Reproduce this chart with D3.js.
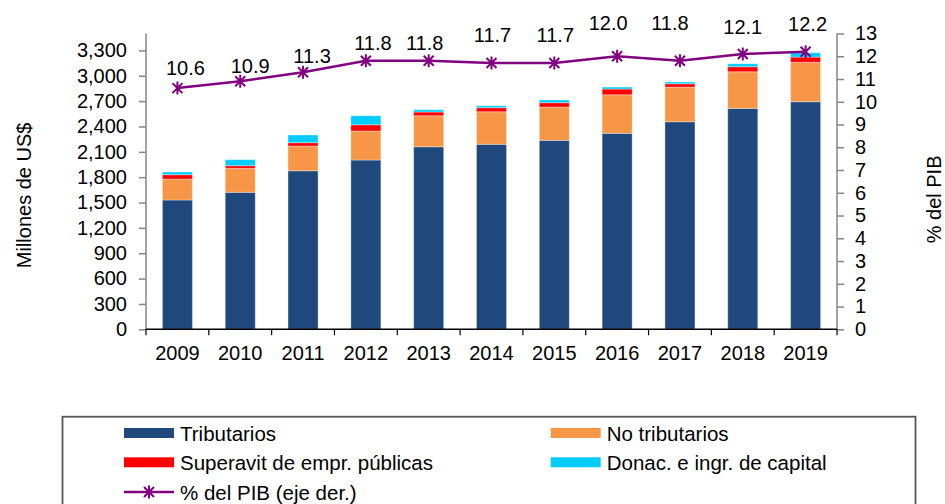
<!DOCTYPE html>
<html>
<head>
<meta charset="utf-8">
<script src="https://cdn.jsdelivr.net/npm/d3@7"></script>
<style>
  html, body { margin: 0; padding: 0; background: #fff; }
  svg { display: block; font-family: "Liberation Sans", Arial, sans-serif; }
</style>
</head>
<body>
<svg id="chart" width="945" height="504"></svg>
<script>
// ---- data ----
const years = ["2009","2010","2011","2012","2013","2014","2015","2016","2017","2018","2019"];
const tributarios   = [1530, 1621, 1876, 2003, 2160, 2189, 2236, 2319, 2456, 2614, 2693];
const noTributarios = [248, 284, 292, 343, 367, 385, 394, 456, 410, 433, 466];
const superavit     = [51, 31, 40, 74, 44, 48, 51, 68, 39, 60, 62];
const donaciones    = [32, 71, 91, 107, 27, 23, 32, 23, 21, 35, 51];
const pctPIB        = [10.6, 10.9, 11.3, 11.8, 11.8, 11.7, 11.7, 12.0, 11.8, 12.1, 12.2];
const leftTicks  = [0, 300, 600, 900, 1200, 1500, 1800, 2100, 2400, 2700, 3000, 3300];
const rightTicks = [0, 1, 2, 3, 4, 5, 6, 7, 8, 9, 10, 11, 12, 13];
const seriesNames = ["Tributarios", "No tributarios", "Superavit de empr. públicas", "Donac. e ingr. de capital"];
const lineName = "% del PIB (eje der.)";

// label nudges (pixels) for the % labels, as hand-placed in the original
const labelLift = [13.5, 8.4, 9.3, 11.3, 11.3, 20.8, 20.8, 26, 30.6, 19.5, 20.5];
const labelShift = [8, 10, 9, 7, -4, 1, 1, -9, -10, 0, 2];

const colors = ["#1F497D", "#F79646", "#FF0000", "#00CCFF"];
const lineColor = "#800080";

// ---- layout ----
const mLeft = 146, mRight = 837, mTop = 33.5, mBottom = 329.3;
const svg = d3.select("#chart");
const font = 20;

const x = d3.scaleBand().domain(years).range([mLeft, mRight]).padding(0);
const yL = d3.scaleLinear().domain([0, 3500]).range([mBottom, mTop]);
const yR = d3.scaleLinear().domain([0, 13]).range([mBottom, mTop]);
const barFrac = 0.478;
const bw = x.bandwidth() * barFrac;

const table = years.map((yr, i) => ({
  year: yr,
  s0: tributarios[i], s1: noTributarios[i], s2: superavit[i], s3: donaciones[i]
}));
const stack = d3.stack().keys(["s0","s1","s2","s3"])(table);

// bars
svg.append("g").selectAll("g").data(stack).join("g")
  .attr("fill", (d, i) => colors[i])
  .selectAll("rect").data(d => d).join("rect")
  .attr("x", d => x(d.data.year) + (x.bandwidth() - bw) / 2)
  .attr("width", bw)
  .attr("y", d => yL(d[1]))
  .attr("height", d => yL(d[0]) - yL(d[1]))
  .attr("stroke", "rgba(255,255,255,0.35)")
  .attr("stroke-width", 1);

// axes
const axisColor = "#868686";
const gL = svg.append("g").attr("transform", `translate(${mLeft},0)`)
  .call(d3.axisLeft(yL).tickValues(leftTicks).tickFormat(d3.format(",")).tickSize(7).tickPadding(12).tickSizeOuter(0));
const gR = svg.append("g").attr("transform", `translate(${mRight},0)`)
  .call(d3.axisRight(yR).tickValues(rightTicks).tickSize(7).tickPadding(11).tickSizeOuter(0));
[gL, gR].forEach(g => {
  g.select(".domain").attr("stroke", axisColor).attr("stroke-width", 1.5);
  g.selectAll(".tick line").attr("stroke", axisColor).attr("stroke-width", 1.5);
  g.selectAll(".tick text").attr("font-size", font).attr("fill", "#000")
    .attr("font-family", "Liberation Sans, Arial, sans-serif");
});
gL.select(".domain").attr("d", `M0,${mTop}V${mBottom}`);
gR.select(".domain").attr("d", `M0,${mTop}V${mBottom}`);

// bottom axis
const gB = svg.append("g").attr("transform", `translate(0,${mBottom})`);
gB.append("line").attr("x1", mLeft).attr("x2", mRight).attr("stroke", "#000").attr("stroke-width", 1.5);
const boundaries = years.map(yr => x(yr)).concat([mRight]);
gB.selectAll("line.tk").data(boundaries).join("line").attr("class", "tk")
  .attr("x1", d => d).attr("x2", d => d).attr("y1", 0).attr("y2", 6)
  .attr("stroke", "#000").attr("stroke-width", 1.2);
gB.selectAll("text").data(years).join("text")
  .attr("x", d => x(d) + x.bandwidth() / 2)
  .attr("y", 31)
  .attr("text-anchor", "middle")
  .attr("font-size", font)
  .text(d => d);

// axis titles
svg.append("text")
  .attr("transform", `translate(24,${(mTop + mBottom) / 2 + 14}) rotate(-90)`)
  .attr("text-anchor", "middle").attr("dominant-baseline", "central")
  .attr("font-size", font).text("Millones de US$");
svg.append("text")
  .attr("transform", `translate(934,${(mTop + mBottom) / 2 + 18}) rotate(-90)`)
  .attr("text-anchor", "middle").attr("dominant-baseline", "central")
  .attr("font-size", font).text("% del PIB");

// line
const cx = i => x(years[i]) + x.bandwidth() / 2;
const line = d3.line().x((d, i) => cx(i)).y(d => yR(d));
svg.append("path").datum(pctPIB).attr("d", line)
  .attr("fill", "none").attr("stroke", lineColor).attr("stroke-width", 2.5);
const star = "M-5,-5L5,5M-5,5L5,-5M0,-6.5L0,6.5";
svg.append("g").selectAll("path").data(pctPIB).join("path")
  .attr("transform", (d, i) => `translate(${cx(i)},${yR(d)})`)
  .attr("d", star).attr("stroke", lineColor).attr("stroke-width", 2).attr("fill", "none");
svg.append("g").selectAll("text").data(pctPIB).join("text")
  .attr("x", (d, i) => cx(i) + labelShift[i])
  .attr("y", (d, i) => yR(d) - labelLift[i])
  .attr("text-anchor", "middle")
  .attr("font-size", font)
  .text(d => d3.format(".1f")(d));

// legend
svg.append("rect").attr("x", 62.5).attr("y", 416.7).attr("width", 853).attr("height", 120)
  .attr("fill", "none").attr("stroke", "#555").attr("stroke-width", 1.8);
const legendItems = [
  {name: seriesNames[0], color: colors[0], col: 0, row: 0},
  {name: seriesNames[1], color: colors[1], col: 1, row: 0},
  {name: seriesNames[2], color: colors[2], col: 0, row: 1},
  {name: seriesNames[3], color: colors[3], col: 1, row: 1}
];
const colX = [124, 550.7], rowY = [433, 462.3, 492];
const lg = svg.append("g");
legendItems.forEach(it => {
  lg.append("rect").attr("x", colX[it.col]).attr("y", rowY[it.row] - 5).attr("width", 50).attr("height", 10)
    .attr("fill", it.color);
  lg.append("text").attr("x", colX[it.col] + 56).attr("y", rowY[it.row])
    .attr("dominant-baseline", "central").attr("font-size", 20.5).text(it.name);
});
lg.append("line").attr("x1", colX[0]).attr("x2", colX[0] + 50).attr("y1", rowY[2]).attr("y2", rowY[2])
  .attr("stroke", lineColor).attr("stroke-width", 2.5);
lg.append("path").attr("transform", `translate(${colX[0] + 25},${rowY[2]})`).attr("d", star)
  .attr("stroke", lineColor).attr("stroke-width", 2).attr("fill", "none");
lg.append("text").attr("x", colX[0] + 56).attr("y", rowY[2])
  .attr("dominant-baseline", "central").attr("font-size", 20.5).text(lineName);
</script>
</body>
</html>
